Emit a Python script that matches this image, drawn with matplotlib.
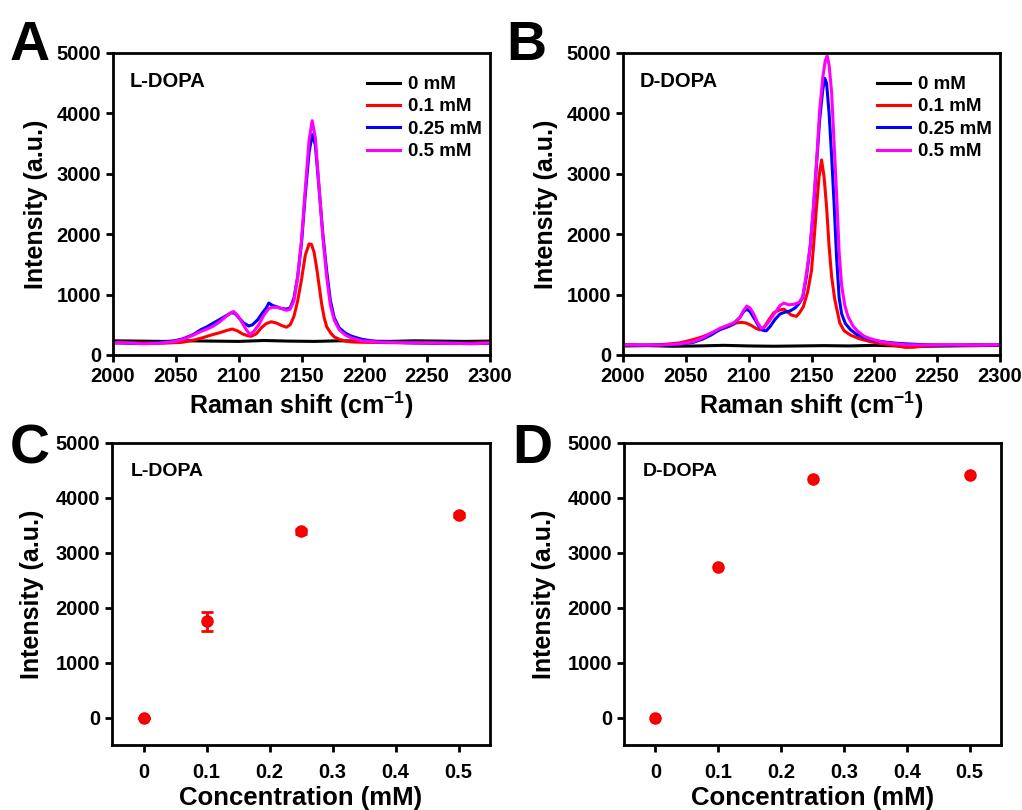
import matplotlib
matplotlib.use("Agg")
import matplotlib.pyplot as plt

plt.rcParams['font.family'] = ['Liberation Sans', 'DejaVu Sans']
plt.rcParams['font.weight'] = 'bold'
plt.rcParams['axes.labelweight'] = 'bold'
plt.rcParams['mathtext.fontset'] = 'custom'
plt.rcParams['mathtext.rm'] = 'Liberation Sans:bold'
plt.rcParams['mathtext.bf'] = 'Liberation Sans:bold'
plt.rcParams['mathtext.default'] = 'bf'

# ---- data ----
labels = ['0 mM', '0.1 mM', '0.25 mM', '0.5 mM']
colors = ['black', '#ff0000', '#0000ff', '#ff00ff']

# panel A, L-DOPA spectra
a_x0 = [2000, 2020, 2040, 2060, 2080, 2100, 2120, 2140, 2160, 2180, 2200, 2220, 2240, 2260, 2280, 2300]
a_y0 = [235, 230, 225, 235, 230, 225, 240, 230, 225, 235, 230, 225, 235, 230, 225, 230]

a_x1 = [2000, 2020, 2040, 2055, 2065, 2072, 2078, 2085, 2091, 2095, 2099, 2103, 2107, 2110, 2114,
        2118, 2122, 2126, 2130, 2134, 2138, 2141, 2144, 2147, 2150, 2153, 2156, 2158, 2160, 2162,
        2164, 2166, 2168, 2170, 2173, 2176, 2180, 2185, 2190, 2200, 2220, 2250, 2280, 2300]
a_y1 = [210, 200, 195, 210, 250, 290, 330, 370, 410, 430, 400, 350, 320, 310, 350,
        450, 520, 550, 530, 490, 460, 500, 640, 900, 1250, 1650, 1840, 1830, 1700, 1450,
        1150, 850, 620, 470, 370, 300, 260, 230, 215, 210, 205, 200, 195, 205]

a_x2 = [2000, 2012, 2024, 2036, 2048, 2056, 2064, 2070, 2075, 2080, 2085, 2090, 2094, 2097, 2100,
        2104, 2108, 2111, 2115, 2119, 2122, 2124, 2127, 2130, 2134, 2138, 2141, 2144, 2147, 2150,
        2153, 2156, 2158.5, 2161, 2163, 2165, 2167, 2170, 2173, 2176, 2180, 2185, 2190, 2198,
        2210, 2225, 2240, 2255, 2270, 2285, 2300]
a_y2 = [200, 195, 190, 200, 230, 270, 340, 420, 470, 530, 590, 650, 700, 690, 620,
        530, 480, 500, 580, 700, 780, 860, 820, 800, 770, 760, 780, 940, 1300, 1850,
        2650, 3350, 3650, 3480, 3000, 2500, 2000, 1400, 900, 620, 450, 360, 310, 260,
        220, 210, 200, 195, 200, 190, 195]

a_x3 = [2000, 2012, 2024, 2036, 2048, 2056, 2064, 2070, 2075, 2080, 2085, 2090, 2094, 2096, 2099,
        2102, 2106, 2109, 2112, 2116, 2120, 2124, 2127, 2130, 2134, 2138, 2141, 2144, 2147, 2150,
        2153, 2156, 2158.5, 2161, 2163, 2165, 2167, 2170, 2173, 2176, 2180, 2185, 2190, 2198,
        2210, 2225, 2240, 2255, 2270, 2285, 2300]
a_y3 = [205, 200, 185, 195, 220, 260, 330, 390, 430, 480, 550, 640, 700, 720, 660,
        560, 420, 340, 390, 500, 660, 770, 790, 790, 770, 740, 760, 900, 1300, 1900,
        2750, 3550, 3880, 3600, 3050, 2500, 1950, 1300, 820, 580, 420, 330, 280, 235,
        215, 205, 200, 200, 195, 185, 200]

# panel B, D-DOPA spectra
b_x0 = [2000, 2020, 2040, 2060, 2080, 2100, 2120, 2140, 2160, 2180, 2200, 2220, 2240, 2260, 2280, 2300]
b_y0 = [150, 155, 145, 150, 160, 150, 145, 150, 155, 150, 160, 150, 145, 150, 155, 160]

b_x1 = [2000, 2015, 2030, 2045, 2055, 2063, 2070, 2077, 2084, 2090, 2094, 2098, 2102, 2106, 2109,
        2112, 2116, 2120, 2124, 2128, 2131, 2134, 2138, 2140.5, 2143.5, 2147, 2150, 2152, 2154,
        2156, 2158, 2160, 2162, 2164, 2166, 2168.5, 2172.5, 2176, 2181, 2188, 2197, 2205, 2215,
        2225, 2232, 2240, 2260, 2280, 2300]
b_y1 = [165, 160, 170, 200, 250, 300, 360, 420, 470, 530, 540, 530, 490, 440, 415,
        450, 580, 700, 740, 760, 710, 660, 640, 700, 800, 1050, 1400, 1900, 2450,
        2950, 3230, 2950, 2450, 1800, 1300, 920, 530, 400, 330, 270, 220, 190, 160,
        125, 130, 150, 160, 155, 165]

b_x2 = [2000, 2015, 2030, 2045, 2056, 2063, 2070, 2077, 2083, 2088, 2093, 2096, 2098.5, 2101, 2104,
        2108, 2111, 2114, 2117, 2121, 2125, 2129, 2133, 2137, 2140, 2143, 2146, 2149, 2151.5,
        2154, 2156.5, 2159, 2160.5, 2162, 2164, 2166, 2168, 2170, 2172, 2174, 2177, 2181, 2186,
        2192, 2200, 2210, 2220, 2240, 2260, 2280, 2300]
b_y2 = [170, 165, 165, 180, 210, 260, 330, 420, 470, 520, 620, 720, 760, 720, 620,
        480, 410, 400, 470, 590, 680, 710, 730, 780, 850, 950, 1300, 1800, 2400,
        3150, 3900, 4400, 4580, 4500, 4000, 3300, 2500, 1600, 950, 680, 520, 420, 340,
        290, 240, 210, 190, 170, 165, 170, 165]

b_x3 = [2000, 2015, 2030, 2045, 2056, 2063, 2070, 2077, 2083, 2088, 2093, 2096, 2098.5, 2101, 2104,
        2107, 2110, 2113, 2117, 2121, 2125, 2128, 2132, 2136, 2140, 2143, 2146, 2149, 2151.5,
        2154, 2156.5, 2159, 2161, 2162.5, 2164, 2166, 2168, 2170, 2172, 2174, 2176.5, 2179, 2183,
        2187, 2192, 2197, 2205, 2215, 2225, 2240, 2260, 2280, 2300]
b_y3 = [170, 165, 165, 185, 220, 280, 360, 440, 490, 530, 620, 740, 810, 780, 680,
        540, 440, 470, 580, 700, 820, 860, 830, 840, 870, 960, 1350, 1800, 2450,
        3200, 4050, 4600, 4880, 4950, 4800, 4350, 3500, 2650, 1700, 1150, 820, 640, 480,
        390, 310, 270, 220, 190, 170, 165, 170, 165, 170]

# panels C and D, peak intensity vs concentration
conc = [0, 0.1, 0.25, 0.5]
c_int = [0, 1750, 3390, 3690]
c_err = [0, 180, 45, 35]
d_int = [0, 2740, 4340, 4410]

spec_A = [(a_x0, a_y0), (a_x1, a_y1), (a_x2, a_y2), (a_x3, a_y3)]
spec_B = [(b_x0, b_y0), (b_x1, b_y1), (b_x2, b_y2), (b_x3, b_y3)]

fig = plt.figure(figsize=(10.22, 8.10), dpi=100)
W, H = 1022, 810


def add_ax(l, t, r, b):
    return fig.add_axes([l / W, 1 - b / H, (r - l) / W, (b - t) / H])


def style(ax):
    for s in ax.spines.values():
        s.set_linewidth(2)
    ax.tick_params(direction='out', length=5, width=2, labelsize=14.5, top=False, right=False)
    for lab in ax.get_xticklabels() + ax.get_yticklabels():
        lab.set_fontweight('bold')


axA = add_ax(113, 53, 490, 355)
axB = add_ax(623, 53, 1000, 355)
axC = add_ax(112, 443, 490, 745)
axD = add_ax(624, 443, 1001, 745)

for ax, spec, name in [(axA, spec_A, 'L-DOPA'), (axB, spec_B, 'D-DOPA')]:
    for (x, y), c, lab in zip(spec, colors, labels):
        ax.plot(x, y, color=c, lw=2.2, label=lab)
    ax.set_xlim(2000, 2300)
    ax.set_ylim(0, 5000)
    ax.set_xticks([2000, 2050, 2100, 2150, 2200, 2250, 2300])
    ax.set_yticks([0, 1000, 2000, 3000, 4000, 5000])
    ax.set_xlabel(r'Raman shift (cm$^{-1}$)', fontsize=18, fontweight='bold', labelpad=3)
    ax.set_ylabel('Intensity (a.u.)', fontsize=18, fontweight='bold', labelpad=6)
    ax.text(0.045, 0.905, name, transform=ax.transAxes, fontsize=14.5, fontweight='bold', va='center')
    ax.legend(loc='upper left', bbox_to_anchor=(0.65, 0.955), frameon=False, borderpad=0,
              handlelength=1.75, handletextpad=0.4, labelspacing=0.28,
              prop={'size': 13.5, 'weight': 'bold'})
    style(ax)

for ax, y, e, name in [(axC, c_int, c_err, 'L-DOPA'), (axD, d_int, None, 'D-DOPA')]:
    ax.errorbar(conc, y, yerr=e, fmt='o', color='#ff0000', ms=8, elinewidth=2,
                capsize=4, capthick=2, mec='#ee0000')
    ax.set_xlim(-0.05, 0.55)
    ax.set_ylim(-500, 5000)
    ax.set_xticks([0, 0.1, 0.2, 0.3, 0.4, 0.5])
    ax.set_xticklabels(['0', '0.1', '0.2', '0.3', '0.4', '0.5'])
    ax.set_yticks([0, 1000, 2000, 3000, 4000, 5000])
    ax.set_xlabel('Concentration (mM)', fontsize=18.5, fontweight='bold', labelpad=3)
    ax.set_ylabel('Intensity (a.u.)', fontsize=18, fontweight='bold', labelpad=8)
    ax.text(0.05, 0.905, name, transform=ax.transAxes, fontsize=14, fontweight='bold', va='center')
    style(ax)
    ax.tick_params(axis='x', pad=8)

for letter, x, y in [('A', 10, 60), ('B', 506, 60), ('C', 10, 463), ('D', 512, 463)]:
    fig.text(x / W, 1 - y / H, letter, fontsize=40, fontweight='bold', va='baseline', ha='left')

plt.savefig('out.png', dpi=100)
